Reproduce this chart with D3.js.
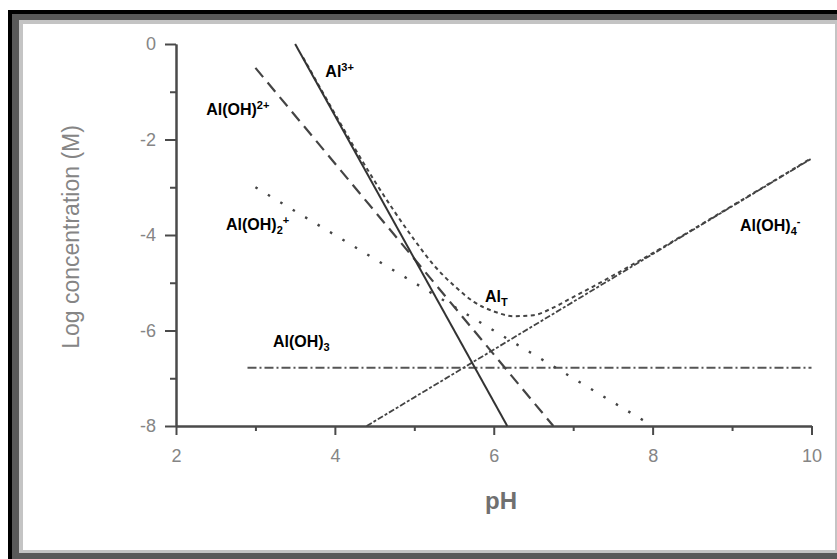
<!DOCTYPE html>
<html>
<head>
<meta charset="utf-8">
<script src="https://cdn.jsdelivr.net/npm/d3@7/dist/d3.min.js"></script>
<style>
  html, body { margin: 0; padding: 0; background: #fff; }
  svg { display: block; }
</style>
</head>
<body>
<svg id="chart" width="837" height="559"></svg>
<script>
// Aluminium speciation: log concentration of each species vs pH
const xTicksMajor = [2, 4, 6, 8, 10];
const xTicksMinor = [3, 5, 7, 9];
const yTicksMajor = [-8, -6, -4, -2, 0];
const yTicksMinor = [-7, -5, -3, -1];

// Straight-line species, given by their end points [pH, log C]
const al3 = [[3.5, 0], [6.17, -8]];
const alOH2plus = [[3.0, -0.5], [6.75, -8]];
const alOH2_plus = [[3.0, -3.0], [7.92, -7.92]];
const alOH3 = [[2.9, -6.78], [10, -6.78]];
const alOH4 = [[4.4, -8], [10, -2.4]];

// Total dissolved aluminium
const alT = [
  [3.6, -0.28], [4.0, -1.46], [4.5, -2.87], [5.0, -4.1], [5.25, -4.64],
  [5.5, -5.06], [5.75, -5.4], [6.0, -5.6], [6.25, -5.7], [6.5, -5.68],
  [6.75, -5.52], [7.0, -5.3], [7.25, -5.08], [7.5, -4.85], [8.0, -4.38],
  [9.0, -3.39], [10.0, -2.39]
];

// Species labels: text parts and anchor [pH, log C]
const labels = [
  { parts: [["Al", ""], ["3+", "sup"]], at: [3.88, -0.69] },
  { parts: [["Al(OH)", ""], ["2+", "sup"]], at: [2.38, -1.49] },
  { parts: [["Al(OH)", ""], ["2", "sub"], ["+", "sup"]], at: [2.63, -3.9] },
  { parts: [["Al(OH)", ""], ["3", "sub"]], at: [3.22, -6.35] },
  { parts: [["Al(OH)", ""], ["4", "sub"], ["-", "sup"]], at: [9.1, -3.92] },
  { parts: [["Al", ""], ["T", "sub"]], at: [5.89, -5.4] }
];

const svg = d3.select("#chart");

// Framed panel
svg.append("rect").attr("x", 8).attr("y", 10).attr("width", 840).attr("height", 560).attr("fill", "#000");
svg.append("rect").attr("x", 12).attr("y", 14).attr("width", 830).attr("height", 550).attr("fill", "#595959");
svg.append("rect").attr("x", 19).attr("y", 20).attr("width", 818).attr("height", 533).attr("fill", "#c4c4c4");
svg.append("rect").attr("x", 23).attr("y", 24).attr("width", 812).attr("height", 526).attr("fill", "#fff");

const x = d3.scaleLinear().domain([2, 10]).range([176, 811.5]);
const y = d3.scaleLinear().domain([-8, 0]).range([426, 44]);

const axisColor = "#4a4a4a";
const labelColor = "#858585";
const font = "'Liberation Sans', Arial, sans-serif";

function styleAxis(g) {
  g.select(".domain").attr("stroke", axisColor).attr("stroke-width", 2);
  g.selectAll(".tick line").attr("stroke", axisColor).attr("stroke-width", 2);
  g.selectAll(".tick text").attr("fill", labelColor).attr("font-family", font).attr("font-size", 18);
}

// y axis
const gy = svg.append("g").attr("transform", `translate(${x(2)},0)`);
gy.call(d3.axisLeft(y).tickValues(yTicksMinor).tickSize(6).tickSizeOuter(0).tickFormat(""));
gy.call(styleAxis);
const gy2 = svg.append("g").attr("transform", `translate(${x(2)},0)`);
gy2.call(d3.axisLeft(y).tickValues(yTicksMajor).tickSize(11).tickPadding(9).tickSizeOuter(0).tickFormat(d => d < 0 ? "-" + Math.abs(d) : d));
gy2.call(styleAxis);

// x axis
const gx = svg.append("g").attr("transform", `translate(0,${y(-8)})`);
gx.call(d3.axisBottom(x).tickValues(xTicksMinor).tickSize(5).tickSizeOuter(0).tickFormat(""));
gx.call(styleAxis);
const gx2 = svg.append("g").attr("transform", `translate(0,${y(-8)})`);
gx2.call(d3.axisBottom(x).tickValues(xTicksMajor).tickSize(9).tickPadding(14).tickSizeOuter(0));
gx2.call(styleAxis);

// Axis titles
svg.append("text")
  .attr("transform", `translate(79,${(y(0) + y(-8)) / 2 + 2}) rotate(-90)`)
  .attr("text-anchor", "middle")
  .attr("fill", labelColor).attr("font-family", font).attr("font-size", 23)
  .text("Log concentration (M)");
svg.append("text")
  .attr("x", 501).attr("y", 509)
  .attr("text-anchor", "middle")
  .attr("fill", "#707070").attr("font-family", font).attr("font-size", 24).attr("font-weight", "bold")
  .text("pH");

// Species curves
const line = d3.line().x(d => x(d[0])).y(d => y(d[1]));
const curve = d3.line().x(d => x(d[0])).y(d => y(d[1])).curve(d3.curveMonotoneX);

const plot = svg.append("g").attr("fill", "none");
plot.append("path").datum(alOH3).attr("d", line)
  .attr("stroke", "#555").attr("stroke-width", 2.2).attr("stroke-dasharray", "9,3,2,3");
plot.append("path").datum(alOH2_plus).attr("d", line)
  .attr("stroke", "#444").attr("stroke-width", 2.4).attr("stroke-dasharray", "2.5,12");
plot.append("path").datum(alOH2plus).attr("d", line)
  .attr("stroke", "#444").attr("stroke-width", 2.2).attr("stroke-dasharray", "12,7");
plot.append("path").datum(alOH4).attr("d", line)
  .attr("stroke", "#444").attr("stroke-width", 1.8).attr("stroke-dasharray", "6,2,3,2");
plot.append("path").datum(alT).attr("d", curve)
  .attr("stroke", "#444").attr("stroke-width", 2).attr("stroke-dasharray", "4,3.5");
plot.append("path").datum(al3).attr("d", line)
  .attr("stroke", "#333").attr("stroke-width", 2);

// Species labels
labels.forEach(l => {
  const t = svg.append("text")
    .attr("x", x(l.at[0])).attr("y", y(l.at[1]))
    .attr("font-family", font).attr("font-weight", "bold").attr("font-size", 16).attr("fill", "#000");
  let shift = 0;
  l.parts.forEach(([s, kind]) => {
    const target = kind === "sup" ? -6 : kind === "sub" ? 4 : 0;
    t.append("tspan")
      .attr("dy", target - shift)
      .attr("font-size", kind ? 11 : 16)
      .text(s);
    shift = target;
  });
});
</script>
</body>
</html>
